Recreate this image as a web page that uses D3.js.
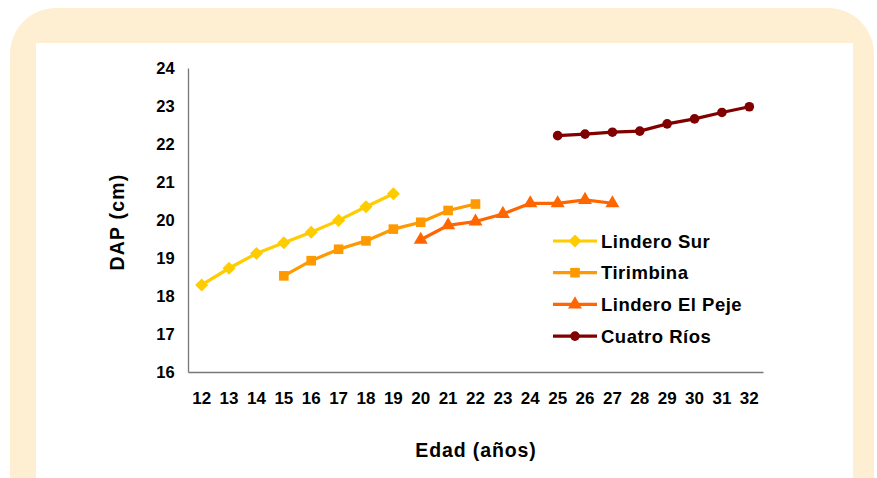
<!DOCTYPE html>
<html><head><meta charset="utf-8">
<script src="https://cdn.jsdelivr.net/npm/d3@7"></script>
<style>body{margin:0;background:#fff}svg{display:block}</style>
</head><body>
<script>
const ages = d3.range(12, 33);
const seriesNames = ["Lindero Sur", "Tirimbina", "Lindero El Peje", "Cuatro Ríos"];
const linderoSurX = [12,13,14,15,16,17,18,19];
const linderoSurY = [18.29,18.73,19.12,19.40,19.68,19.99,20.35,20.69];
const tirimbinaX = [15,16,17,18,19,20,21,22];
const tirimbinaY = [18.53,18.93,19.23,19.45,19.76,19.94,20.25,20.42];
const peJeX = [20,21,22,23,24,25,26,27];
const peJeY = [19.48,19.86,19.96,20.16,20.44,20.44,20.53,20.44];
const cuatroX = [25,26,27,28,29,30,31,32];
const cuatroY = [22.22,22.26,22.31,22.34,22.53,22.66,22.83,22.98];
const yTicks = [16,17,18,19,20,21,22,23,24];
const colors = ["#FFCC00","#FF9900","#FF6600","#800000"];

const W = 877, H = 478;
const svg = d3.select("body").append("svg").attr("width", W).attr("height", H);
svg.append("rect").attr("x",10).attr("y",8).attr("width",864).attr("height",520).attr("rx",46).attr("fill","#FEEFD2");
svg.append("rect").attr("x",36).attr("y",43).attr("width",817).attr("height",480).attr("fill","#fff");

const x = d3.scaleBand().domain(ages).range([188, 763]);
const y = d3.scaleLinear().domain([16, 24]).range([372, 68]);
const cx = v => x(v) + x.bandwidth()/2;

const font = "'Liberation Sans', Arial, sans-serif";
const narrow = "'Liberation Sans Narrow', 'Arial Narrow', 'Liberation Sans', sans-serif";

function marker(sel, i) {
  if (i === 0) sel.append("rect").attr("x",-4.6).attr("y",-4.6).attr("width",9.2).attr("height",9.2).attr("transform","rotate(45)");
  else if (i === 1) sel.append("rect").attr("x",-4.8).attr("y",-4.8).attr("width",9.6).attr("height",9.6);
  else if (i === 2) sel.append("path").attr("d", d3.symbol().type(d3.symbolTriangle).size(85)());
  else sel.append("circle").attr("r",4.8);
  sel.attr("fill", colors[i]);
}

// axes
const yAxis = svg.append("g").attr("transform","translate(188,0)")
  .call(d3.axisLeft(y).tickValues(yTicks).tickSize(0).tickPadding(13).tickFormat(d3.format("d")));
const xAxis = svg.append("g").attr("transform","translate(0,372)")
  .call(d3.axisBottom(x).tickSize(0).tickPadding(20));
[yAxis, xAxis].forEach(a => {
  a.select(".domain").attr("stroke","#777").attr("stroke-width",1.3);
  a.selectAll("text").attr("font-weight","bold").attr("fill","#000");
});
yAxis.selectAll("text").attr("font-family",font).attr("font-size",16.5).attr("letter-spacing",0.2);
xAxis.selectAll("text").attr("font-family",narrow).attr("font-size",17);

svg.append("text").attr("transform","translate(124,222) rotate(-90)").attr("text-anchor","middle")
  .attr("font-family",font).attr("font-size",19.5).attr("font-weight","bold").attr("letter-spacing",1.2).text("DAP (cm)");
svg.append("text").attr("x",476).attr("y",457).attr("text-anchor","middle")
  .attr("font-family",font).attr("font-size",19.5).attr("font-weight","bold").attr("letter-spacing",0.9).text("Edad (años)");

const series = [
  {xs: linderoSurX, ys: linderoSurY},
  {xs: tirimbinaX, ys: tirimbinaY},
  {xs: peJeX, ys: peJeY},
  {xs: cuatroX, ys: cuatroY}
];
const line = d3.line().x(d => cx(d[0])).y(d => y(d[1]));
series.forEach((s, i) => {
  const pts = s.xs.map((v, j) => [v, s.ys[j]]);
  svg.append("path").datum(pts).attr("d", line).attr("fill","none").attr("stroke",colors[i]).attr("stroke-width",3.2);
  svg.append("g").selectAll("g").data(pts).join("g")
    .attr("transform", d => `translate(${cx(d[0])},${y(d[1])})`)
    .each(function(){ marker(d3.select(this), i); });
});

// legend
const leg = svg.append("g");
seriesNames.forEach((n, i) => {
  const ly = 241 + i*31.7;
  leg.append("line").attr("x1",553).attr("x2",597).attr("y1",ly).attr("y2",ly).attr("stroke",colors[i]).attr("stroke-width",3.2);
  marker(leg.append("g").attr("transform",`translate(575,${ly})`), i);
  leg.append("text").attr("x",601).attr("y",ly+6.5).attr("font-family",font).attr("font-size",18.5)
    .attr("font-weight","bold").attr("letter-spacing",0.5).text(n);
});
</script>
</body></html>
